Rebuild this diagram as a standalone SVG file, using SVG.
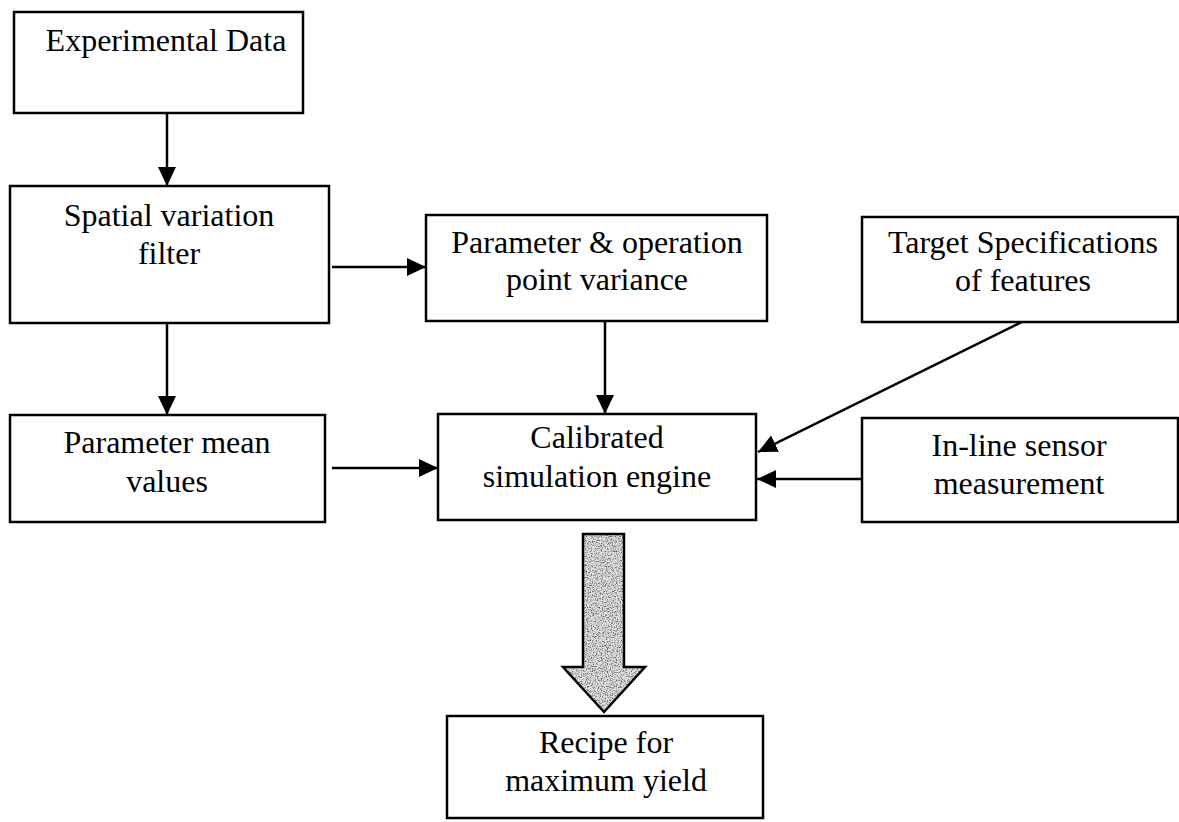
<svg xmlns="http://www.w3.org/2000/svg" width="1179" height="822" viewBox="0 0 1179 822">
<style>
.box{fill:#fff;stroke:#000;stroke-width:2.5}
.t{font-family:"Liberation Serif","Times New Roman",serif;font-size:32px;fill:#000;text-anchor:middle}
.c{stroke:#000;stroke-width:2.5;fill:none;marker-end:url(#ah)}
</style>
<defs>
<marker id="ah" markerUnits="userSpaceOnUse" markerWidth="20" markerHeight="18" refX="19" refY="9" orient="auto">
<path d="M0,0 L19,9 L0,18 z" fill="#000"/>
</marker>
<filter id="noise" x="0" y="0" width="100%" height="100%">
<feTurbulence type="fractalNoise" baseFrequency="0.8" numOctaves="2" seed="3" result="n"/>
<feColorMatrix in="n" type="matrix" values="0 0 0 0 0  0 0 0 0 0  0 0 0 0 0  0 0 0 -3.5 2.0" result="a"/>
<feFlood flood-color="#666" result="f"/>
<feComposite in="f" in2="a" operator="in" result="dots"/>
<feComposite in="dots" in2="SourceGraphic" operator="in" result="d2"/>
<feMerge><feMergeNode in="SourceGraphic"/><feMergeNode in="d2"/></feMerge>
</filter>
</defs>
<rect width="1179" height="822" fill="#fff"/>
<g id="n-experimental">
<rect class="box" x="14" y="12" width="289" height="101"/>
<text class="t" x="166" y="51">Experimental Data</text>
</g>
<g id="n-spatial">
<rect class="box" x="10" y="186" width="319" height="137"/>
<text class="t" x="169" y="226">Spatial variation</text>
<text class="t" x="169" y="264">filter</text>
</g>
<g id="n-param-op">
<rect class="box" x="426" y="215" width="341" height="106"/>
<text class="t" x="597" y="253">Parameter &amp; operation</text>
<text class="t" x="597" y="290">point variance</text>
</g>
<g id="n-target">
<rect class="box" x="862" y="217" width="316" height="105"/>
<text class="t" x="1023" y="253">Target Specifications</text>
<text class="t" x="1023" y="291">of features</text>
</g>
<g id="n-mean">
<rect class="box" x="10" y="415" width="315" height="107"/>
<text class="t" x="167" y="453">Parameter mean</text>
<text class="t" x="167" y="492">values</text>
</g>
<g id="n-calibrated">
<rect class="box" x="438" y="414" width="318" height="106"/>
<text class="t" x="597" y="448">Calibrated</text>
<text class="t" x="597" y="487">simulation engine</text>
</g>
<g id="n-inline">
<rect class="box" x="862" y="418" width="316" height="104"/>
<text class="t" x="1019" y="456">In-line sensor</text>
<text class="t" x="1019" y="494">measurement</text>
</g>
<g id="n-recipe">
<rect class="box" x="447" y="716" width="316" height="102"/>
<text class="t" x="606" y="753">Recipe for</text>
<text class="t" x="606" y="791">maximum yield</text>
</g>
<g id="connectors">
<line class="c" x1="167" y1="113" x2="167" y2="186"/>
<line class="c" x1="332" y1="267" x2="426" y2="267"/>
<line class="c" x1="167" y1="323" x2="167" y2="415"/>
<line class="c" x1="605" y1="321" x2="605" y2="414"/>
<line class="c" x1="332" y1="468" x2="438" y2="468"/>
<line class="c" x1="1022" y1="322" x2="758" y2="452"/>
<line class="c" x1="862" y1="479" x2="757" y2="479"/>
<g id="big-arrow">
<polygon points="583,534 624,534 624,667 645,667 604,712 563,667 583,667" fill="#e2e2e2" filter="url(#noise)"/>
<polygon points="583,534 624,534 624,667 645,667 604,712 563,667 583,667" fill="none" stroke="#000" stroke-width="2.5" stroke-linejoin="miter"/>
</g>
</g>
</svg>
